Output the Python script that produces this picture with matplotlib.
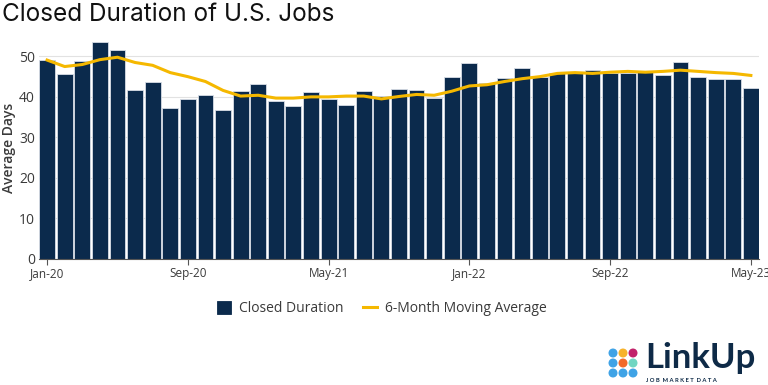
import numpy as np
import matplotlib
matplotlib.use('Agg')
from matplotlib import pyplot as plt
from matplotlib.patches import Circle

# monthly closed duration, Jan-20 .. May-23
months = ['Jan-20', 'Feb-20', 'Mar-20', 'Apr-20', 'May-20', 'Jun-20', 'Jul-20', 'Aug-20',
          'Sep-20', 'Oct-20', 'Nov-20', 'Dec-20', 'Jan-21', 'Feb-21', 'Mar-21', 'Apr-21',
          'May-21', 'Jun-21', 'Jul-21', 'Aug-21', 'Sep-21', 'Oct-21', 'Nov-21', 'Dec-21',
          'Jan-22', 'Feb-22', 'Mar-22', 'Apr-22', 'May-22', 'Jun-22', 'Jul-22', 'Aug-22',
          'Sep-22', 'Oct-22', 'Nov-22', 'Dec-22', 'Jan-23', 'Feb-23', 'Mar-23', 'Apr-23',
          'May-23']
closedDuration = [49.1, 45.7, 48.8, 53.5, 51.6, 41.6, 43.6, 37.3, 39.5, 40.5, 36.8, 41.4,
                  43.3, 39.0, 37.8, 41.1, 39.4, 38.0, 41.5, 40.3, 41.9, 41.7, 39.7, 44.9,
                  48.3, 43.4, 44.6, 47.1, 44.8, 45.9, 46.0, 46.7, 45.9, 46.0, 46.5, 45.3,
                  48.7, 45.0, 44.3, 44.3, 42.2]
movingAvg = [49.1, 47.5, 48.0, 49.2, 49.8, 48.5, 47.8, 46.0, 45.0, 43.8, 41.6, 40.2,
             40.4, 39.7, 39.7, 40.0, 40.0, 40.2, 40.2, 39.5, 40.1, 40.6, 40.4, 41.4,
             42.7, 43.0, 43.8, 44.5, 45.0, 45.8, 46.0, 45.8, 46.1, 46.3, 46.1, 46.3,
             46.6, 46.3, 46.0, 45.8, 45.3]
tickLabels = ['Jan-20', 'Sep-20', 'May-21', 'Jan-22', 'Sep-22', 'May-23']

navy = '#0b2a4c'
gold = '#f5b800'
textCol = '#3a3a3a'

fig = plt.figure(figsize=(7.68, 3.85), dpi=100)
ax = fig.add_axes([0.051, 0.328, 0.937, 0.578])

x = np.arange(len(months))
bars = ax.bar(x, closedDuration, width=0.9, color=navy, edgecolor='#d8dee6', linewidth=0.6,
              label='Closed Duration', zorder=2)
line, = ax.plot(x, movingAvg, color=gold, linewidth=2.2, label='6-Month Moving Average', zorder=3)

ax.set_xlim(-0.45, len(months) - 0.55)
ax.set_ylim(0, 55)
ax.set_yticks([0, 10, 20, 30, 40, 50])
ax.set_xticks([months.index(m) for m in tickLabels])
ax.set_xticklabels(tickLabels)
ax.grid(axis='y', color='#e2e2e2', linewidth=0.8, zorder=0)
ax.set_axisbelow(True)
for s in ['top', 'right', 'left']:
    ax.spines[s].set_visible(False)
ax.spines['bottom'].set_color('#555555')
ax.spines['bottom'].set_linewidth(0.8)
ax.tick_params(axis='y', length=0, labelsize=10, labelcolor=textCol, pad=3)
ax.tick_params(axis='x', length=4, color='#555555', labelsize=8.5, labelcolor=textCol, pad=2)
for lab in ax.get_xticklabels() + ax.get_yticklabels():
    lab.set_family('Open Sans')
ax.set_ylabel('Average Days', fontsize=10, color=textCol, family='Open Sans',
              fontweight='semibold', labelpad=2)

leg = fig.legend([bars, line], ['Closed Duration', '6-Month Moving Average'],
                 loc='center', bbox_to_anchor=(0.497, 0.198), ncol=2, frameon=False,
                 prop={'family': 'Open Sans', 'size': 10}, handlelength=1.0,
                 handleheight=1.1, columnspacing=1.4, handletextpad=0.6)
for t in leg.get_texts():
    t.set_color(textCol)
leg.legend_handles[0].set_edgecolor(navy)

fig.text(0.003, 0.963, 'Closed Duration of U.S. Jobs', fontsize=17.5, family='Inter',
         color='#111111', va='center', ha='left')

# LinkUp logo, bottom right
dotCols = [['#3fa3e6', '#f7b22a', '#c2226a'],
           ['#3fa3e6', '#f26a2a', '#70d6c2'],
           ['#3fa3e6', '#3fa3e6', '#3fa3e6']]
for r in range(3):
    for c in range(3):
        px = 613 + c * 10
        py = 385 - (353 + r * 10)
        fig.patches.append(Circle((px, py), 3.8, transform=None, color=dotCols[r][c]))
fig.text(645 / 768.0, 1 - 358 / 385.0, 'LinkUp', fontsize=25, fontweight='bold',
         family='Lato', color='#0e2a47', va='center', ha='left')
fig.text(646 / 768.0, 1 - 381 / 385.0, 'J O B  M A R K E T  D A T A', fontsize=4.2,
         fontweight='bold', family='Lato', color='#0e2a47', va='center', ha='left')

fig.savefig('out.png', dpi=100, facecolor='w')
